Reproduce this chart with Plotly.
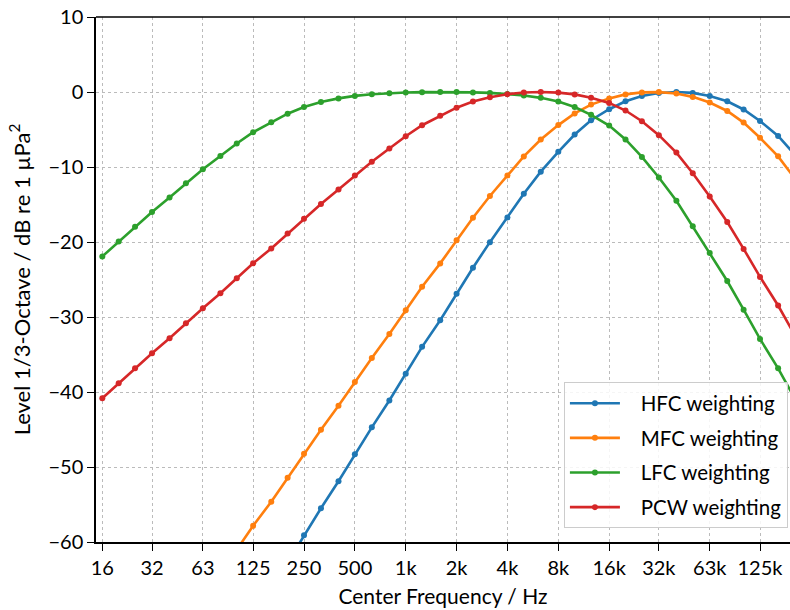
import plotly.graph_objects as go

# 1/3-octave band centre frequencies (Hz)
freqs = [16, 20, 25, 31.5, 40, 50, 63, 80, 100, 125, 160, 200, 250, 315, 400, 500,
         630, 800, 1000, 1250, 1600, 2000, 2500, 3150, 4000, 5000, 6300, 8000,
         10000, 12500, 16000, 20000, 25000, 31500, 40000, 50000, 63000, 80000,
         100000, 125000, 160000, 200000]

hfc = [-102.29, -98.69, -95.09, -91.49, -87.89, -84.29, -80.69, -77.09, -73.49, -69.89,
       -66.29, -62.69, -59.10, -55.50, -51.90, -48.31, -44.71, -41.13, -37.55, -33.98,
       -30.43, -26.91, -23.43, -20.02, -16.72, -13.56, -10.62, -7.97, -5.67, -3.76,
       -2.30, -1.23, -0.52, -0.13, 0.00, -0.12, -0.53, -1.24, -2.33, -3.86, -5.85, -8.30]

mfc = [-86.62, -83.42, -80.22, -77.02, -73.82, -70.62, -67.42, -64.22, -61.03, -57.83,
       -54.63, -51.43, -48.23, -45.03, -41.84, -38.65, -35.46, -32.28, -29.11, -25.97,
       -22.85, -19.78, -16.77, -13.87, -11.13, -8.59, -6.33, -4.41, -2.86, -1.68,
       -0.85, -0.32, -0.05, -0.01, -0.20, -0.65, -1.40, -2.53, -4.08, -6.10, -8.58, -11.46]

lfc = [-21.92, -19.93, -17.96, -16.00, -14.06, -12.16, -10.31, -8.53, -6.86, -5.35,
       -4.02, -2.89, -2.00, -1.33, -0.85, -0.52, -0.30, -0.15, -0.07, -0.02,
       0.00, -0.01, -0.05, -0.12, -0.25, -0.46, -0.78, -1.28, -2.00, -3.04,
       -4.47, -6.33, -8.65, -11.40, -14.50, -17.89, -21.47, -25.20, -29.03, -32.92, -36.84, -40.80]

pcw = [-40.83, -38.83, -36.83, -34.83, -32.83, -30.83, -28.83, -26.83, -24.84, -22.84,
       -20.86, -18.87, -16.90, -14.94, -13.01, -11.12, -9.29, -7.53, -5.90, -4.43,
       -3.15, -2.09, -1.28, -0.69, -0.29, -0.07, 0.00, -0.08, -0.32, -0.76,
       -1.45, -2.47, -3.89, -5.76, -8.08, -10.83, -13.94, -17.33, -20.92, -24.65, -28.47, -32.36]

series_names = ["HFC weighting", "MFC weighting", "LFC weighting", "PCW weighting"]
series_values = [hfc, mfc, lfc, pcw]
colors = ["#1f77b4", "#ff7f0e", "#2ca02c", "#d62728"]

x_tickvals = [16, 31.5, 63, 125, 250, 500, 1000, 2000, 4000, 8000, 16000, 31500, 63000, 125000]
x_ticktext = ["16", "32", "63", "125", "250", "500", "1k", "2k", "4k", "8k", "16k", "32k", "63k", "125k"]
y_tickvals = [10, 0, -10, -20, -30, -40, -50, -60]
y_ticktext = ["10", "0", "\u221210", "\u221220", "\u221230", "\u221240", "\u221250", "\u221260"]

FONT = "Lato"

fig = go.Figure()
for i, (name, vals, col) in enumerate(zip(series_names, series_values, colors)):
    fig.add_trace(go.Scatter(
        x=freqs, y=vals, name="\u00a0\u00a0\u00a0" + name, mode="lines+markers",
        line=dict(color=col, width=2.6),
        marker=dict(color=col, size=6),
        legendgroup=f"g{i}",
    ))

fig.update_layout(
    width=790, height=610,
    margin=dict(l=96, r=0, t=17, b=68),
    paper_bgcolor="white", plot_bgcolor="white",
    font=dict(family=FONT, size=20, color="black"),
    showlegend=True,
    legend=dict(
        x=0.997, xanchor="right", y=0.026, yanchor="bottom",
        bgcolor="rgba(255,255,255,0.85)", bordercolor="#cccccc", borderwidth=1,
        font=dict(family=FONT, size=20.5, color="black"),
        tracegroupgap=5, itemwidth=50,
    ),
    xaxis=dict(
        type="log", range=[1.1668, 5.2745],
        tickvals=x_tickvals, ticktext=x_ticktext,
        ticks="outside", ticklen=7, tickwidth=1.3, tickcolor="black",
        showline=True, linecolor="black", linewidth=1.5,
        showgrid=True, gridcolor="#bbbbbb", gridwidth=1, griddash="dot",
        zeroline=False,
        title=dict(text="Center Frequency / Hz", standoff=12,
                   font=dict(family=FONT, size=21, color="black")),
        tickfont=dict(size=20),
    ),
    yaxis=dict(
        range=[-60, 10],
        tickvals=y_tickvals, ticktext=y_ticktext,
        ticks="outside", ticklen=7, tickwidth=1.3, tickcolor="black",
        showline=True, linecolor="black", linewidth=1.5,
        showgrid=True, gridcolor="#bbbbbb", gridwidth=1, griddash="dot",
        zeroline=False,
        title=dict(text="Level 1/3-Octave / dB re 1 \u00b5Pa<sup>2</sup>", standoff=12,
                   font=dict(family=FONT, size=22, color="black")),
        tickfont=dict(size=20),
    ),
    shapes=[dict(type="line", xref="paper", yref="paper", x0=0, x1=1, y0=1, y1=1,
                 line=dict(color="black", width=1.5))],
)

fig.write_html("out.html", config={"displayModeBar": False},
               post_script="document.body.style.margin='0';document.body.style.overflow='hidden';")
